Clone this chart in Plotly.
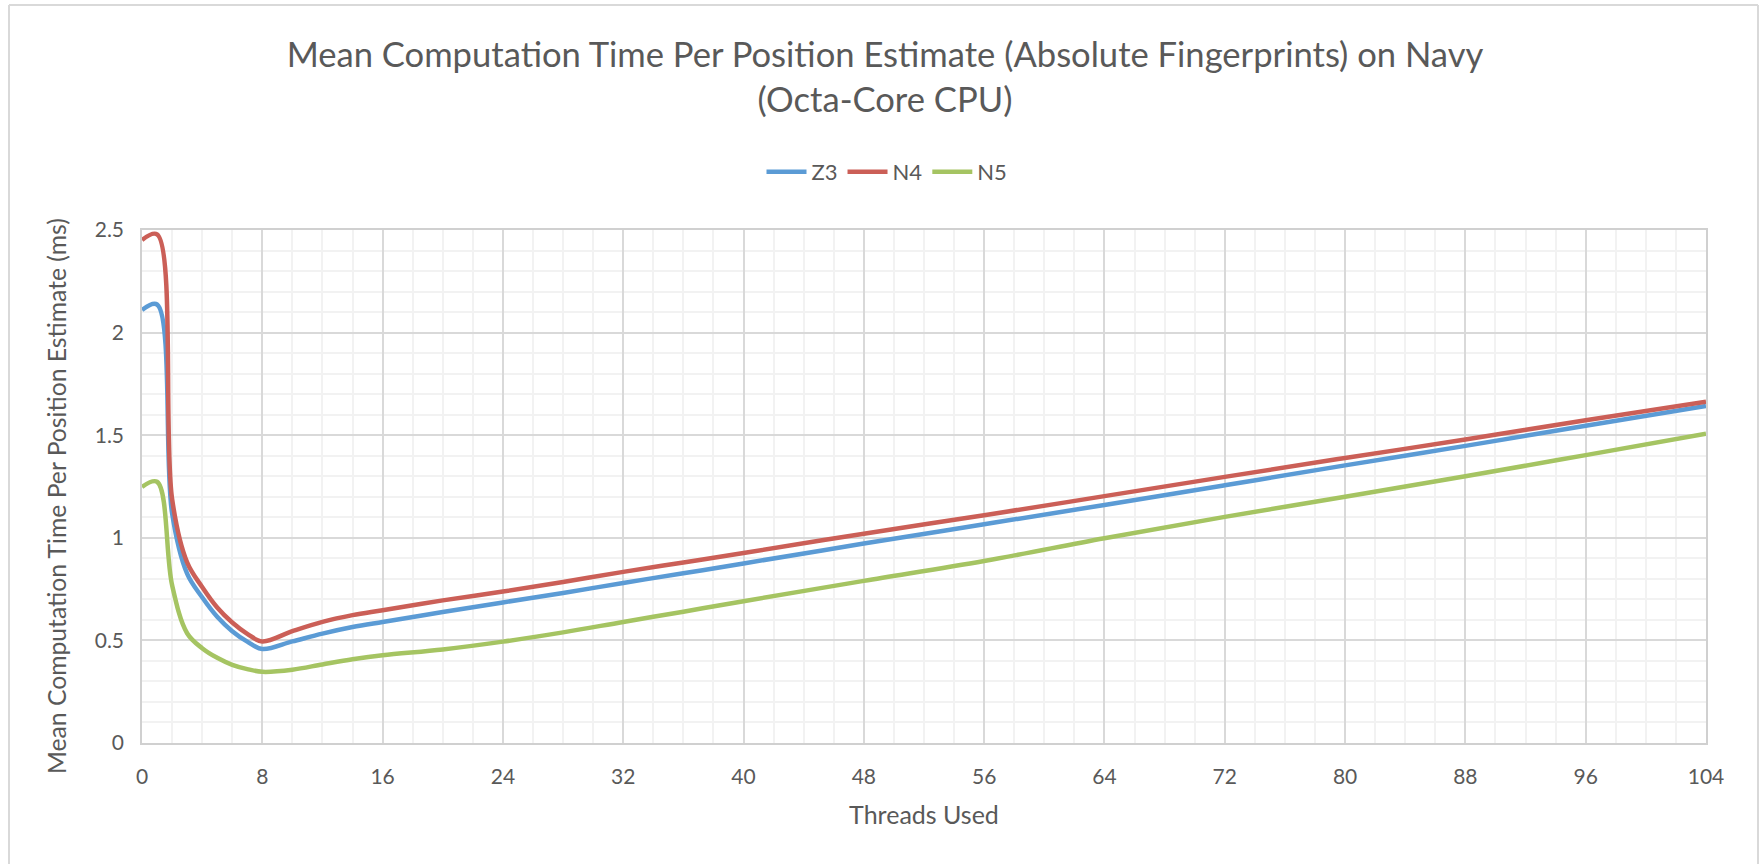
import plotly.graph_objects as go

threads = [0, 1, 2, 3, 4, 5, 6, 7, 8, 10, 12, 14, 16, 20, 24, 28, 32, 36, 40,
           48, 56, 64, 72, 80, 88, 96, 104]
z3 = [2.11, 2.137, 1.12, 0.825, 0.71, 0.615, 0.545, 0.494, 0.458, 0.495, 0.533,
      0.565, 0.59, 0.638, 0.685, 0.731, 0.78, 0.827, 0.875, 0.972, 1.066, 1.16,
      1.256, 1.353, 1.448, 1.546, 1.642]
n4 = [2.451, 2.479, 1.19, 0.88, 0.76, 0.66, 0.587, 0.532, 0.495, 0.545, 0.59,
      0.623, 0.647, 0.695, 0.738, 0.785, 0.834, 0.88, 0.926, 1.02, 1.11, 1.203,
      1.297, 1.389, 1.479, 1.573, 1.663]
n5 = [1.248, 1.273, 0.77, 0.535, 0.462, 0.415, 0.381, 0.36, 0.347, 0.357, 0.383,
      0.408, 0.428, 0.456, 0.494, 0.539, 0.59, 0.64, 0.691, 0.79, 0.887, 0.998,
      1.102, 1.2, 1.3, 1.403, 1.507]

series_names = ["Z3", "N4", "N5"]
series_values = [z3, n4, n5]
colors = ["#5B9BD5", "#CB5F57", "#A5C462"]

x_ticks = [0, 8, 16, 24, 32, 40, 48, 56, 64, 72, 80, 88, 96, 104]
y_ticks = [0, 0.5, 1, 1.5, 2, 2.5]
y_tick_text = ["0", "0.5", "1", "1.5", "2", "2.5"]

FONT = "Lato, 'Open Sans', sans-serif"
TXT = "#595959"

fig = go.Figure()
for name, vals, col in zip(series_names, series_values, colors):
    fig.add_trace(go.Scatter(
        x=threads, y=vals, name=name, mode="lines",
        line=dict(color=col, width=4.5, shape="spline", smoothing=1.0),
        hoverinfo="x+y+name",
    ))

W, H = 1760, 864
L, R, T, B = 142, 54, 230, 121
pw, ph = W - L - R, H - T - B

def px_x(p):
    return (p - L) / pw

def px_y(p):
    return (H - B - p) / ph

fig.update_layout(
    width=W, height=H,
    margin=dict(l=L, r=R, t=T, b=B, autoexpand=False),
    paper_bgcolor="white", plot_bgcolor="white",
    font=dict(family=FONT, color=TXT, size=20),
    title=dict(
        text="Mean Computation Time Per Position Estimate (Absolute Fingerprints) on Navy<br>(Octa-Core CPU)",
        x=px_x(885), xanchor="center", xref="paper",
        y=1 - 67 / H, yanchor="middle", yref="container",
        font=dict(family=FONT, size=34.6, color=TXT),
    ),
    legend=dict(
        orientation="h", x=px_x(887), xanchor="center",
        y=px_y(172), yanchor="middle",
        font=dict(family=FONT, size=22, color=TXT),
        bgcolor="rgba(0,0,0,0)", itemwidth=40,
    ),
    showlegend=True,
    xaxis=dict(
        range=[0, 104], tickvals=x_ticks, ticks="", showgrid=True,
        gridcolor="#D9D9D9", gridwidth=1.5,
        minor=dict(dtick=2, tick0=0, showgrid=True, gridcolor="#F2F2F2", gridwidth=1.5),
        showline=True, linecolor="#D0D0D0", linewidth=1.5, mirror=True,
        zeroline=False,
        tickfont=dict(family=FONT, size=21, color=TXT),
        ticklabelstandoff=14,
        title=dict(text="Threads Used", font=dict(family=FONT, size=25, color=TXT), standoff=20),
    ),
    yaxis=dict(
        range=[0, 2.5], tickvals=y_ticks, ticktext=y_tick_text, ticks="", showgrid=True,
        gridcolor="#D9D9D9", gridwidth=1.5,
        minor=dict(dtick=0.1, tick0=0, showgrid=True, gridcolor="#F2F2F2", gridwidth=1.5),
        showline=True, linecolor="#D0D0D0", linewidth=1.5, mirror=True,
        zeroline=False,
        tickfont=dict(family=FONT, size=21, color=TXT),
        ticklabelstandoff=12,
    ),
    annotations=[
        dict(text="Mean Computation Time Per Position Estimate (ms)",
             xref="paper", yref="paper", x=px_x(56), y=px_y(496),
             xanchor="center", yanchor="middle", textangle=-90, showarrow=False,
             font=dict(family=FONT, size=24.7, color=TXT)),
    ],
    shapes=[
        dict(type="line", xref="paper", yref="paper", x0=px_x(9), x1=px_x(1758),
             y0=px_y(5), y1=px_y(5), line=dict(color="#D9D9D9", width=2)),
        dict(type="line", xref="paper", yref="paper", x0=px_x(9), x1=px_x(9),
             y0=px_y(5), y1=px_y(870), line=dict(color="#D9D9D9", width=2)),
        dict(type="line", xref="paper", yref="paper", x0=px_x(1758), x1=px_x(1758),
             y0=px_y(5), y1=px_y(870), line=dict(color="#D9D9D9", width=2)),
    ],
)

fig.write_html("out.html")
